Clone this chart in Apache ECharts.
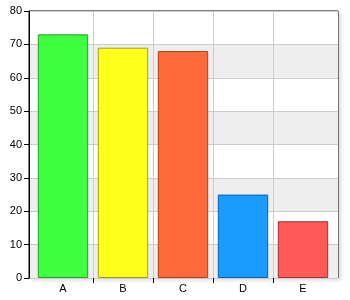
<!DOCTYPE html>
<html><head><meta charset="utf-8">
<script src="https://cdn.jsdelivr.net/npm/echarts@6/dist/echarts.min.js"></script>
<style>html,body{margin:0;padding:0;background:#fff}#c{width:350px;height:300px}</style>
</head><body><div id="c"></div>
<script>
const categories = ['A','B','C','D','E'];
const values = [73, 69, 68, 25, 17];
const fills = ['#40ff40','#ffff1a','#ff6a3a','#1a9bff','#ff5a5a'];
const borders = ['#2a9a2a','#a0a020','#a8401c','#10609f','#a03030'];
const yTicks = [0,10,20,30,40,50,60,70,80];
const boundaries = categories.map((c,i)=>'b'+i).concat(['b'+categories.length]);

const chart = echarts.init(document.getElementById('c'), null, {renderer:'canvas'});
const inner = (i)=> i>0 && i<boundaries.length-1;
chart.setOption({
  animation:false,
  grid:[
    {left:29,right:12,top:11,bottom:22,show:true,borderColor:'#000',borderWidth:1,backgroundColor:'#fff',
     shadowColor:'rgba(0,0,0,0.12)',shadowBlur:4,shadowOffsetX:3,shadowOffsetY:2},
    {left:33,right:17,top:11,bottom:22}
  ],
  xAxis:[
    {type:'value',gridIndex:0,min:0,max:1,show:false},
    {type:'category',gridIndex:1,data:categories,
      axisLine:{show:false},axisTick:{show:false},splitLine:{show:false},
      axisLabel:{color:'#000',fontFamily:'Liberation Sans',fontSize:11,margin:5}},
    {type:'category',gridIndex:1,data:boundaries,boundaryGap:false,position:'bottom',
      axisLine:{show:false},axisLabel:{show:false},
      axisTick:{show:true,length:5,interval:inner,lineStyle:{color:'#000'}},
      splitLine:{show:true,interval:inner,lineStyle:{color:'#cccccc'}}}
  ],
  yAxis:[
    {type:'value',gridIndex:0,min:0,max:80,interval:10,
      axisLine:{show:true,lineStyle:{color:'#000'}},
      axisTick:{show:true,length:5,lineStyle:{color:'#000'}},
      axisLabel:{color:'#000',fontFamily:'Liberation Sans',fontSize:11,margin:7,
        formatter:v=>yTicks.includes(v)?String(v):''},
      splitLine:{show:true,lineStyle:{color:'#cccccc'}},
      splitArea:{show:true,areaStyle:{color:['#eeeeee','#ffffff']}}},
    {type:'value',gridIndex:1,min:0,max:80,interval:10,show:false}
  ],
  series:[{type:'bar',xAxisIndex:1,yAxisIndex:1,barWidth:'84%',
    data:values.map((v,i)=>({value:v,itemStyle:{color:fills[i],borderColor:borders[i],borderWidth:1}}))}]
});
</script></body></html>
